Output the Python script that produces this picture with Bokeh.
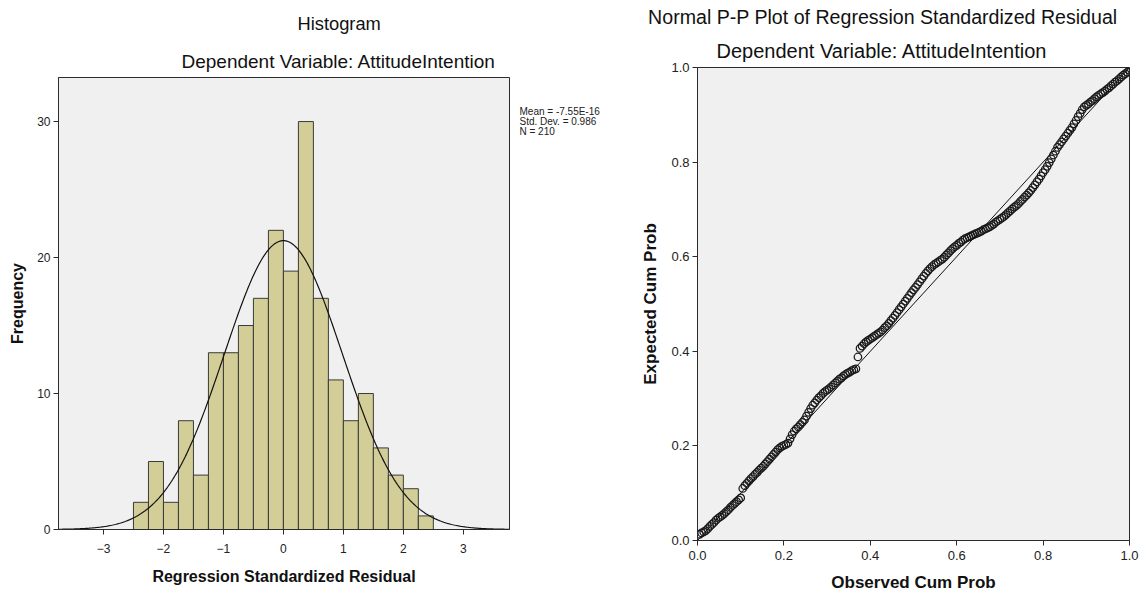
from bokeh.plotting import figure
from bokeh.layouts import row, column
from bokeh.models import Range1d, FixedTicker, Slope, Title, Label, CustomJSTickFormatter
from bokeh.embed import file_html
from bokeh.resources import INLINE
import numpy as np

# ---------------- data ----------------
bin_edges = [-2.5, -2.25, -2.0, -1.75, -1.5, -1.25, -1.0, -0.75, -0.5, -0.25, 0.0,
             0.25, 0.5, 0.75, 1.0, 1.25, 1.5, 1.75, 2.0, 2.25, 2.5]
frequencies = [2, 5, 2, 8, 4, 13, 13, 15, 17, 22, 19, 30, 17, 11, 8, 10, 6, 4, 3, 1]
resid_mean = -7.55e-16
resid_sd = 0.986
n_cases = 210
hist_xticks = [-3, -2, -1, 0, 1, 2, 3]
hist_yticks = [0, 10, 20, 30]
pp_ticks = [0.0, 0.2, 0.4, 0.6, 0.8, 1.0]
stats_lines = ["Mean = -7.55E-16", "Std. Dev. = 0.986", "N = 210"]

# expected cumulative probability of each case, in rank order
expected_cum_prob = [
    0.013, 0.016, 0.018, 0.021, 0.025, 0.030, 0.034, 0.038, 0.043, 0.047,
    0.050, 0.053, 0.057, 0.061, 0.065, 0.070, 0.074, 0.078, 0.082, 0.086,
    0.090, 0.110, 0.116, 0.121, 0.126, 0.131, 0.135, 0.140, 0.144, 0.149,
    0.153, 0.157, 0.162, 0.167, 0.172, 0.177, 0.182, 0.187, 0.192, 0.196,
    0.199, 0.201, 0.203, 0.206, 0.215, 0.224, 0.231, 0.236, 0.240, 0.245,
    0.250, 0.255, 0.263, 0.271, 0.279, 0.286, 0.291, 0.297, 0.302, 0.306,
    0.311, 0.315, 0.318, 0.321, 0.325, 0.329, 0.333, 0.337, 0.341, 0.344,
    0.348, 0.351, 0.354, 0.356, 0.359, 0.361, 0.363, 0.388, 0.406, 0.411,
    0.416, 0.420, 0.423, 0.426, 0.429, 0.432, 0.435, 0.438, 0.441, 0.445,
    0.450, 0.454, 0.459, 0.465, 0.470, 0.476, 0.482, 0.488, 0.494, 0.500,
    0.506, 0.512, 0.518, 0.524, 0.530, 0.535, 0.541, 0.547, 0.553, 0.559,
    0.565, 0.570, 0.575, 0.579, 0.583, 0.586, 0.589, 0.592, 0.595, 0.599,
    0.604, 0.608, 0.613, 0.617, 0.621, 0.624, 0.628, 0.631, 0.635, 0.638,
    0.640, 0.642, 0.644, 0.646, 0.648, 0.650, 0.652, 0.654, 0.657, 0.659,
    0.661, 0.663, 0.666, 0.669, 0.673, 0.676, 0.679, 0.682, 0.685, 0.689,
    0.693, 0.697, 0.701, 0.705, 0.708, 0.712, 0.717, 0.721, 0.726, 0.730,
    0.735, 0.740, 0.746, 0.752, 0.758, 0.764, 0.771, 0.778, 0.784, 0.791,
    0.799, 0.807, 0.815, 0.823, 0.831, 0.837, 0.843, 0.849, 0.855, 0.861,
    0.867, 0.873, 0.881, 0.888, 0.896, 0.903, 0.911, 0.917, 0.920, 0.923,
    0.927, 0.930, 0.934, 0.938, 0.941, 0.944, 0.947, 0.950, 0.954, 0.957,
    0.961, 0.965, 0.969, 0.972, 0.976, 0.980, 0.984, 0.987, 0.990, 0.994,
]
# observed cumulative probability = rank / N
observed_cum_prob = [(k + 1) / len(expected_cum_prob) for k in range(len(expected_cum_prob))]

FONT = "Liberation Sans"
BG = "#F0F0F0"
DARK = "#2b2b2b"
H = 596


def style_axes(p, label_size):
    for ax in (p.xaxis[0], p.yaxis[0]):
        ax.axis_line_color = DARK
        ax.major_tick_line_color = DARK
        ax.minor_tick_line_color = None
        ax.major_tick_out = 5
        ax.major_tick_in = 0
        ax.major_label_text_font = FONT
        ax.major_label_text_color = "#222222"
        ax.axis_label_text_font = FONT
        ax.axis_label_text_font_style = "bold"
        ax.axis_label_text_color = "#111111"
        ax.axis_label_text_font_size = label_size
    p.xgrid.visible = False
    p.ygrid.visible = False
    p.outline_line_color = DARK
    p.background_fill_color = BG
    p.border_fill_color = "white"


def title(text, align, offset, standoff, size):
    return Title(text=text, align=align, offset=offset, standoff=standoff,
                 text_font=FONT, text_font_size=size, text_font_style="normal",
                 text_color="#111111")


# ---------------- histogram ----------------
p1 = figure(width=510, height=H, x_range=Range1d(-3.75, 3.77), y_range=Range1d(0, 33.24),
            output_backend="svg", toolbar_location=None, title=None,
            min_border_left=58, min_border_right=1, min_border_top=77, min_border_bottom=67)
p1.quad(left=bin_edges[:-1], right=bin_edges[1:], top=frequencies, bottom=0,
        fill_color="#D3CE97", line_color="#3a3a3a", line_width=1)

bw = bin_edges[1] - bin_edges[0]
xs = np.linspace(-3.75, 3.77, 400)
ys = n_cases * bw * np.exp(-0.5 * ((xs - resid_mean) / resid_sd) ** 2) / (resid_sd * np.sqrt(2 * np.pi))
p1.line(xs, ys, line_color="#111111", line_width=1.2)

style_axes(p1, "16px")
p1.xaxis.ticker = FixedTicker(ticks=hist_xticks)
p1.yaxis.ticker = FixedTicker(ticks=hist_yticks)
p1.xaxis.major_label_text_font_size = "12px"
p1.yaxis.major_label_text_font_size = "12px"
p1.xaxis.axis_label = "Regression Standardized Residual"
p1.yaxis.axis_label = "Frequency"
p1.xaxis.major_label_standoff = 9
p1.xaxis.axis_label_standoff = 12
p1.yaxis.major_label_standoff = 3
p1.yaxis.axis_label_standoff = 8

p1.add_layout(title("Dependent Variable: AttitudeIntention", "left", 123, 12, "19px"), "above")
p1.add_layout(title("Histogram", "left", 239, 18, "18.3px"), "above")

# ---------------- statistics box (right of the histogram) ----------------
ps = figure(width=115, height=H, x_range=Range1d(0, 1), y_range=Range1d(0, 1),
            x_axis_type=None, y_axis_type=None, output_backend="svg",
            toolbar_location=None, title=None, min_border=0)
ps.outline_line_color = None
ps.background_fill_color = "white"
ps.border_fill_color = "white"
ps.xgrid.visible = False
ps.ygrid.visible = False
for k, line in enumerate(stats_lines):
    ps.add_layout(Label(x=9, y=H - 111 - 10 * k, x_units="screen", y_units="screen", text=line,
                        text_align="left", text_baseline="middle", text_font=FONT,
                        text_font_size="10px", text_color="#222222"))

# ---------------- P-P plot ----------------
p2 = figure(width=515, height=H, x_range=Range1d(0, 1), y_range=Range1d(0, 1),
            output_backend="svg", toolbar_location=None, title=None,
            min_border_left=72, min_border_right=11, min_border_top=67, min_border_bottom=56)
p2.add_layout(Slope(gradient=1, y_intercept=0, line_color="#111111", line_width=1))
p2.scatter(observed_cum_prob, expected_cum_prob, marker="circle", size=7.5,
           fill_color=None, line_color="#1a1a1a", line_width=1.25)

style_axes(p2, "17px")
p2.xaxis.ticker = FixedTicker(ticks=pp_ticks)
p2.yaxis.ticker = FixedTicker(ticks=pp_ticks)
p2.xaxis.major_label_text_font_size = "13px"
p2.yaxis.major_label_text_font_size = "13px"
p2.xaxis.axis_label = "Observed Cum Prob"
p2.yaxis.axis_label = "Expected Cum Prob"
p2.xaxis.major_label_standoff = 5
p2.xaxis.axis_label_standoff = 10
p2.yaxis.major_label_standoff = 3
p2.yaxis.axis_label_standoff = 8
p2.xaxis.formatter = CustomJSTickFormatter(code="return tick.toFixed(1);")
p2.yaxis.formatter = CustomJSTickFormatter(code="return tick.toFixed(1);")

p2.add_layout(title("Dependent Variable: AttitudeIntention", "right", 82, 12, "20px"), "above")
p2.add_layout(title("Normal P-P Plot of Regression Standardized Residual", "right", 12, 7, "19.6px"), "above")

layout = row(column(p1), column(ps), column(p2))
open("out.html", "w").write(file_html(layout, INLINE))
